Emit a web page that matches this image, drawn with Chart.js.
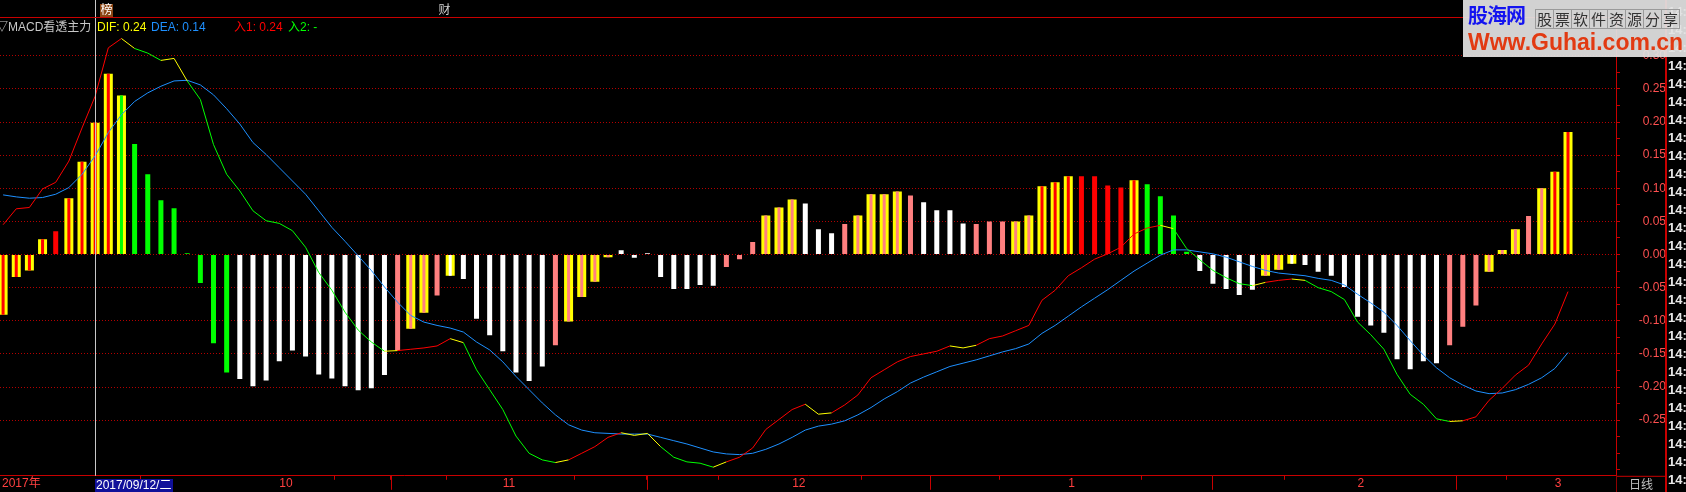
<!DOCTYPE html>
<html>
<head>
<meta charset="utf-8">
<script src="https://cdn.jsdelivr.net/npm/chart.js@4.4.1/dist/chart.umd.min.js"></script>
<style>
  html, body { margin: 0; padding: 0; background: #000; }
  #wrap { position: relative; width: 1686px; height: 492px; overflow: hidden; background: #000;
          font-family: "Liberation Sans", Arial, "Noto Sans CJK SC", sans-serif; }
  #myChart { position: absolute; left: 0; top: 0; }
  .t { position: absolute; font-size: 12px; line-height: 14px; white-space: nowrap; }
  #tag1 { left: 100px; top: 4px; width: 13px; height: 13px; background: #8b4513; color: #fff; text-align: center; line-height: 13px; }
  #tag2 { left: 438px; top: 4px; width: 13px; height: 13px; color: #d0d0d0; text-align: center; line-height: 13px; }
  #times { position: absolute; left: 1668px; top: 3px; font: bold 13px/18px "Liberation Sans", Arial, sans-serif; color: #e8e8e8; white-space: pre; }
  #logo { position: absolute; left: 1463px; top: 0; width: 223px; height: 57px; background: rgba(226,226,226,0.93); }
  #logo .brand { position: absolute; left: 5px; top: 3px; font: bold 20px/24px "Noto Sans CJK SC", sans-serif; color: #1414f0; letter-spacing: -1px; }
  #logo .slogan { position: absolute; left: 72px; top: 9px; display: flex; }
  #logo .slogan span { width: 17px; height: 18px; border: 1px solid #9a9a9a; border-right: none; font: 15px/18px "Noto Sans CJK SC", sans-serif; color: #333; text-align: center; }
  #logo .slogan span:last-child { border-right: 1px solid #9a9a9a; }
  #logo .site { position: absolute; left: 5px; top: 29px; font: bold 23px/26px "Liberation Sans", Arial, sans-serif; color: #e23a12; }
  #cursorDate { position: absolute; top: 479px; height: 13px; width: 78px; background: #10109a; color: #fff; font-size: 12px; line-height: 13px; padding-left: 1px; box-sizing: border-box; }
  #period { position: absolute; left: 1617px; top: 479px; width: 48px; text-align: center; color: #c0c0c0; font-size: 12px; line-height: 13px; }
</style>
</head>
<body>
<div id="wrap">
  <canvas id="myChart" width="1686" height="492"></canvas>
  <div class="t" id="tag1">榜</div>
  <div class="t" id="tag2">财</div>
  <div class="t" style="left:-4px;top:20px;color:#c8c8c8">▽MACD看透主力</div>
  <div class="t" style="left:97px;top:20px;color:#ffff00">DIF: 0.24</div>
  <div class="t" style="left:151px;top:20px;color:#1e90ff">DEA: 0.14</div>
  <div class="t" style="left:234px;top:20px;color:#ff0000">入1: 0.24</div>
  <div class="t" style="left:288px;top:20px;color:#00ff00">入2: -</div>
  <div id="times"></div>
  <div id="logo">
    <div class="brand">股海网</div>
    <div class="slogan"><span>股</span><span>票</span><span>软</span><span>件</span><span>资</span><span>源</span><span>分</span><span>享</span></div>
    <div class="site">Www.Guhai.com.cn</div>
  </div>
  <div id="cursorDate">2017/09/12/二</div>
  <div id="period">日线</div>
</div>
<script>
// 2017/09/01 - 2018/03/02 日线, MACD看透主力
var macd = [
  -0.091, -0.034, -0.024, 0.023, 0.035, 0.085, 0.140, 0.199, 0.273, 0.240,
  0.167, 0.121, 0.082, 0.070, 0.002, -0.043, -0.134, -0.178, -0.188, -0.199,
  -0.190, -0.161, -0.145, -0.154, -0.181, -0.187, -0.199, -0.205, -0.202, -0.182,
  -0.145, -0.112, -0.088, -0.062, -0.032, -0.037, -0.097, -0.122, -0.146, -0.178,
  -0.191, -0.169, -0.137, -0.101, -0.064, -0.041, -0.004, 0.0065, -0.005, 0.002,
  -0.034, -0.052, -0.052, -0.046, -0.047, -0.019, -0.007, 0.019, 0.059, 0.071,
  0.083, 0.077, 0.038, 0.032, 0.046, 0.059, 0.091, 0.091, 0.095, 0.089,
  0.079, 0.067, 0.067, 0.047, 0.046, 0.050, 0.050, 0.050, 0.059, 0.103,
  0.109, 0.118, 0.118, 0.118, 0.104, 0.101, 0.112, 0.106, 0.088, 0.059,
  0.004, -0.025, -0.044, -0.052, -0.061, -0.053, -0.032, -0.023, -0.014, -0.016,
  -0.026, -0.032, -0.049, -0.094, -0.107, -0.118, -0.158, -0.173, -0.161, -0.164,
  -0.137, -0.109, -0.077, -0.026, 0.007, 0.038, 0.058, 0.100, 0.125, 0.185
];
// signal kind of each bar: Y? = framed bar, last letter = body (R red, G green, W white, P pink)
var kind = [
  'YR','YR','YR','YR','R','YR','YR','YR','YR','YG',
  'G','G','G','G','G','G','G','G','W','W',
  'W','W','W','W','W','W','W','W','W','W',
  'P','YP','YP','P','YW','W','W','W','W','W',
  'W','W','P','YP','YP','YP','YP','W','W','W',
  'W','W','W','W','W','P','P','P','YP','YP',
  'YP','W','W','W','P','YP','YP','YP','YP','P',
  'W','W','W','W','P','P','P','YP','YP','YR',
  'YR','YR','R','R','R','R','YR','G','G','G',
  'G','W','W','W','W','W','YP','YP','YW','W',
  'W','W','W','W','W','W','W','W','W','W',
  'P','P','P','YP','YP','YP','P','YP','YR','YR'
];
var dif = [
  0.045, 0.069, 0.071, 0.099, 0.109, 0.141, 0.191, 0.239, 0.312, 0.326,
  0.311, 0.304, 0.293, 0.296, 0.262, 0.234, 0.166, 0.121, 0.096, 0.066,
  0.051, 0.047, 0.036, 0.011, -0.027, -0.054, -0.087, -0.114, -0.132, -0.146,
  -0.145, -0.143, -0.141, -0.138, -0.127, -0.133, -0.174, -0.204, -0.234, -0.274,
  -0.300, -0.310, -0.314, -0.310, -0.300, -0.290, -0.276, -0.269, -0.273, -0.270,
  -0.290, -0.306, -0.313, -0.315, -0.321, -0.313, -0.306, -0.292, -0.264, -0.249,
  -0.234, -0.226, -0.241, -0.239, -0.227, -0.212, -0.186, -0.174, -0.162, -0.154,
  -0.150, -0.146, -0.138, -0.141, -0.137, -0.127, -0.123, -0.115, -0.107, -0.069,
  -0.054, -0.032, -0.020, -0.007, 0.001, 0.011, 0.031, 0.040, 0.044, 0.039,
  0.009, -0.008, -0.024, -0.035, -0.044, -0.047, -0.042, -0.039, -0.037, -0.039,
  -0.050, -0.056, -0.068, -0.102, -0.121, -0.143, -0.181, -0.211, -0.226, -0.248,
  -0.252, -0.251, -0.245, -0.220, -0.202, -0.182, -0.167, -0.135, -0.105, -0.056
];
var dea = [
  0.090, 0.087, 0.085, 0.086, 0.091, 0.101, 0.121, 0.149, 0.184, 0.211,
  0.231, 0.244, 0.254, 0.262, 0.263, 0.256, 0.241, 0.220, 0.197, 0.169,
  0.151, 0.131, 0.111, 0.091, 0.066, 0.041, 0.020, -0.002, -0.024, -0.049,
  -0.072, -0.092, -0.102, -0.107, -0.111, -0.117, -0.132, -0.144, -0.162, -0.184,
  -0.204, -0.224, -0.242, -0.257, -0.265, -0.269, -0.270, -0.271, -0.271, -0.271,
  -0.276, -0.281, -0.286, -0.292, -0.298, -0.301, -0.302, -0.300, -0.294, -0.286,
  -0.276, -0.265, -0.259, -0.256, -0.251, -0.242, -0.231, -0.218, -0.207, -0.194,
  -0.185, -0.177, -0.169, -0.164, -0.159, -0.153, -0.147, -0.142, -0.135, -0.119,
  -0.107, -0.093, -0.079, -0.066, -0.053, -0.039, -0.025, -0.013, -0.001, 0.007,
  0.007, 0.004, 0.001, -0.004, -0.011, -0.018, -0.024, -0.028, -0.030, -0.032,
  -0.036, -0.039, -0.046, -0.060, -0.073, -0.087, -0.107, -0.130, -0.152, -0.171,
  -0.186, -0.197, -0.206, -0.210, -0.209, -0.204, -0.196, -0.186, -0.172, -0.148
];
var yearLabel = '2017年';
var monthTicks = [21, 38, 60, 81, 103, 118];
var monthLabels = ['10', '11', '12', '1', '2', '3'];
var weekTicks = [25.2, 29.4, 33.7, 43.4, 48.9, 54.4, 65.2, 70.5, 75.7, 86.5, 91.9, 97.4, 110.5, 114.3];
var cursorIndex = 7;

var RED = '#ff0000', YELLOW = '#ffff00', GREEN = '#00ff00', BLUE = '#1e90ff';
var body = { R: RED, G: GREEN, W: '#ffffff', P: '#ff8080' };
var axisRed = '#c80000';

// visible window: 13.15 px per day, first bar 3 px from the left edge
var xMin = -0.236, xMax = 122.65;
var yMin = -0.334, yMax = 0.357;

function framed(i) { return kind[i].length === 2; }
function pts(arr, keep) {
  return arr.map(function (v, i) { return { x: i, y: (!keep || keep(i)) ? v : null }; });
}
function bodyColor(c) { var k = kind[c.dataIndex]; return body[k.charAt(k.length - 1)]; }
function difColor(c) {
  var i = c.p1DataIndex;
  var up = dif[i] > dif[i - 1];
  var prevUp = i > 1 ? dif[i - 1] > dif[i - 2] : up;
  if (up !== prevUp) return YELLOW;
  return up ? RED : GREEN;
}
function labelled(v) {
  var k = v * 20;
  return Math.abs(k - Math.round(k)) < 1e-6 && v > -0.2501 && v < 0.3001;
}

var frame = {
  id: 'frame',
  afterDatasetsDraw: function (chart) {
    var c = chart.ctx, a = chart.chartArea, x = chart.scales.x;
    c.save();
    var cx = Math.round(x.getPixelForValue(cursorIndex)) + 0.5;
    c.strokeStyle = '#c8c8c8';
    c.lineWidth = 1;
    c.beginPath(); c.moveTo(cx, 0); c.lineTo(cx, a.bottom); c.stroke();
    c.restore();
  },
  afterDraw: function (chart) {
    var c = chart.ctx, a = chart.chartArea, x = chart.scales.x;
    c.save();
    c.fillStyle = axisRed;
    c.fillRect(0, a.top - 1, 1666, 1);
    c.fillRect(1665, 0, 2, 492);
    c.fillRect(a.right, a.bottom, 1666 - a.right, 1);
    c.fillStyle = '#900000';
    c.fillRect(a.right, a.bottom, 1, 492 - a.bottom);
    c.fillStyle = axisRed;
    weekTicks.forEach(function (v) {
      c.fillRect(Math.round(x.getPixelForValue(v)), a.bottom, 1, 4);
    });
    c.restore();
  }
};

Chart.defaults.font.family = '"Liberation Sans", Arial, "Noto Sans CJK SC", sans-serif';
Chart.defaults.font.size = 12;

var ctx = document.getElementById('myChart').getContext('2d');
var macdChart = new Chart(ctx, {
  type: 'bar',
  data: {
    datasets: [
      { type: 'line', label: 'DIF', data: pts(dif), order: 0, borderColor: RED, borderWidth: 1,
        pointRadius: 0, tension: 0, segment: { borderColor: difColor } },
      { type: 'line', label: 'DEA', data: pts(dea), order: 0, borderColor: BLUE, borderWidth: 1,
        pointRadius: 0, tension: 0 },
      { label: 'MACD', data: pts(macd, function (i) { return !framed(i); }), order: 1,
        grouped: false, barThickness: 5, inflateAmount: 0, borderWidth: 0, backgroundColor: bodyColor },
      { label: 'MACD body', data: pts(macd, framed), order: 1,
        grouped: false, barThickness: 3, inflateAmount: 0, borderWidth: 0, backgroundColor: bodyColor },
      { label: 'MACD frame', data: pts(macd, framed), order: 2,
        grouped: false, barThickness: 9, inflateAmount: 0, borderWidth: 0, backgroundColor: YELLOW }
    ]
  },
  options: {
    responsive: false,
    animation: false,
    events: [],
    layout: { padding: { left: 0, right: 20, top: 18, bottom: 0 } },
    plugins: { legend: { display: false }, tooltip: { enabled: false } },
    scales: {
      x: {
        type: 'linear', min: xMin, max: xMax, offset: false,
        afterBuildTicks: function (s) {
          s.ticks = [{ value: xMin + 0.15 }].concat(monthTicks.map(function (v) { return { value: v }; }));
        },
        afterFit: function (s) { s.height = 14; },
        grid: { drawOnChartArea: false, drawTicks: true, tickLength: 14, tickWidth: 1,
                tickColor: function (c) { return c.index === 0 ? 'transparent' : axisRed; } },
        border: { display: true, color: axisRed, width: 1 },
        ticks: { autoSkip: false, maxRotation: 0, align: 'start', padding: -13, color: '#ff4040',
                 callback: function (v, i) { return i === 0 ? yearLabel : monthLabels[i - 1]; } }
      },
      y: {
        type: 'linear', position: 'right', min: yMin, max: yMax,
        afterBuildTicks: function (s) {
          var t = [];
          for (var k = -13; k <= 14; k++) t.push({ value: k * 0.025 });
          s.ticks = t;
        },
        afterFit: function (s) { s.width = 50; },
        grid: { lineWidth: 1, tickLength: 4, tickColor: axisRed, drawTicks: true,
                color: function (c) { return labelled(c.tick.value) ? '#b40000' : 'transparent'; } },
        border: { display: true, color: axisRed, width: 1, dash: [1, 2] },
        ticks: { autoSkip: false, crossAlign: 'far', padding: 9, color: '#ff5050',
                 callback: function (v) { return labelled(v) ? v.toFixed(2) : ''; } }
      }
    }
  },
  plugins: [frame]
});

document.getElementById('cursorDate').style.left =
  Math.round(macdChart.scales.x.getPixelForValue(cursorIndex)) + 'px';
var rows = [];
for (var r = 0; r < 27; r++) rows.push('14:');
document.getElementById('times').textContent = rows.join('\n');
</script>
</body>
</html>
